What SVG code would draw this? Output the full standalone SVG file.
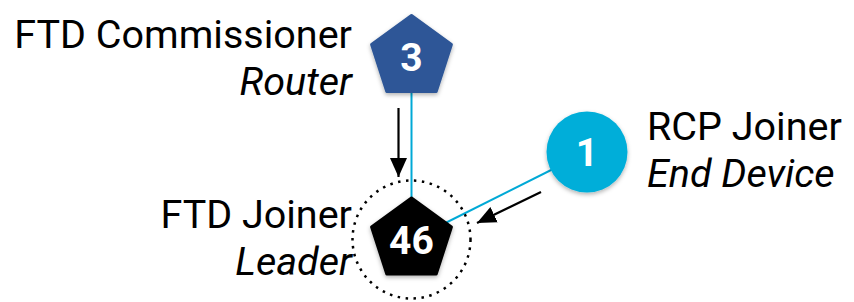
<svg xmlns="http://www.w3.org/2000/svg" width="854" height="302" viewBox="0 0 854 302">
<style>
.lbl{font-family:Roboto,"Liberation Sans",sans-serif;font-size:39.5px;fill:#000;text-anchor:end}
.it{font-style:italic}
.num{font-family:Roboto,"Liberation Sans",sans-serif;font-weight:bold;font-size:39px;fill:#fff;text-anchor:middle}
.link{stroke:#00A9D6;stroke-width:2;fill:none}
.arr{stroke:#000;stroke-width:2.2;fill:none;marker-end:url(#ah)}
</style>
<defs>
<marker id="ah" viewBox="0 0 19 17" refX="19" refY="8.5" markerWidth="19" markerHeight="17" markerUnits="userSpaceOnUse" orient="auto">
<path d="M0,0 L19,8.5 L0,17 Z" fill="#000"/>
</marker>
<filter id="sh" x="-20%" y="-20%" width="140%" height="150%">
<feDropShadow dx="0" dy="2" stdDeviation="2" flood-color="#000" flood-opacity="0.3"/>
</filter>
</defs>
<g id="connectors">
<line class="link" x1="411.5" y1="57.5" x2="411.5" y2="240"/>
<line class="link" x1="587" y1="152" x2="411.5" y2="240"/>
<line class="arr" x1="398.5" y1="108" x2="398.5" y2="177"/>
<line class="arr" x1="541" y1="192" x2="477" y2="223"/>
</g>
<g id="leader-ring">
<circle cx="411.5" cy="239.5" r="59" fill="none" stroke="#000" stroke-width="2.5" stroke-dasharray="2.5 5.5"/>
</g>
<g id="node-3">
<polygon points="411.5,15.5 451.4,44.5 436.2,91.5 386.8,91.5 371.6,44.5" fill="#2E5797" stroke="#2E5797" stroke-width="3" stroke-linejoin="round" filter="url(#sh)"/>
<text class="num" x="411.5" y="71">3</text>
</g>
<g id="node-46">
<polygon points="411.5,198 451.4,227 436.2,274 386.8,274 371.6,227" fill="#000" stroke="#000" stroke-width="3" stroke-linejoin="round" filter="url(#sh)"/>
<text class="num" x="411.5" y="254">46</text>
</g>
<g id="node-1">
<circle cx="587" cy="152" r="40.5" fill="#00AED9" filter="url(#sh)"/>
<text class="num" x="587" y="166">1</text>
</g>
<g id="labels">
<text class="lbl" x="352" y="48">FTD Commissioner</text>
<text class="lbl it" x="352" y="95">Router</text>
<text class="lbl" x="352" y="228">FTD Joiner</text>
<text class="lbl it" x="352" y="275">Leader</text>
<text class="lbl" x="647" y="140" style="text-anchor:start">RCP Joiner</text>
<text class="lbl it" x="647" y="187" style="text-anchor:start">End Device</text>
</g>
</svg>
